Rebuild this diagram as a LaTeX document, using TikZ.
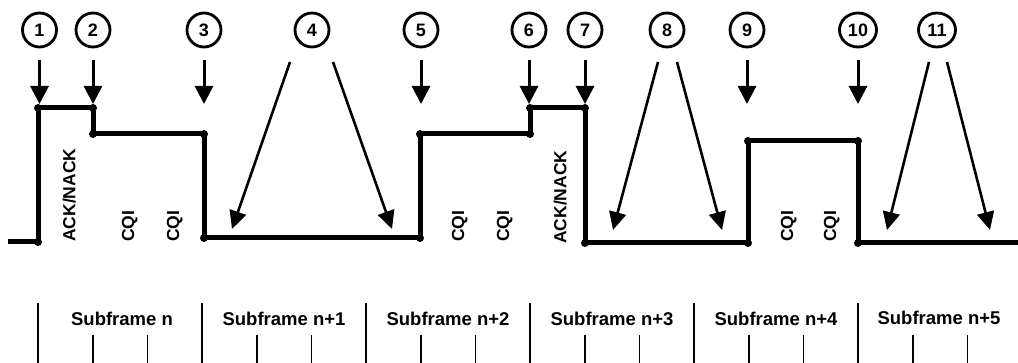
\documentclass[tikz,border=0pt]{standalone}
\usepackage{fontspec}
\setmainfont{Liberation Sans}
\usetikzlibrary{arrows.meta,calc,shapes.geometric}
\begin{document}
\begin{tikzpicture}[x=1pt,y=-1pt,
  wave/.style={line width=5pt, line join=miter},
  wdot/.style={circle, fill=black, inner sep=0pt, minimum size=8pt},
  num/.style={circle, draw, line width=2.8pt, minimum size=34pt, inner sep=0pt, font=\fontsize{18}{18}\selectfont\bfseries},
  wnum/.style={ellipse, draw, line width=2.8pt, minimum width=37pt, minimum height=34pt, inner sep=0pt, font=\fontsize{18}{18}\selectfont\bfseries},
  ptr/.style={line width=3pt, -{Triangle[length=18pt,width=18pt]}},
  dptr/.style={line width=2.6pt, -{Triangle[length=18pt,width=17pt]}},
  lbl/.style={rotate=90, anchor=west, inner sep=0pt, text depth=0pt, font=\fontsize{17.5}{18}\selectfont\bfseries},
  sublbl/.style={inner sep=0pt, font=\fontsize{18.5}{19}\selectfont\bfseries},
  divline/.style={line width=1.6pt}]
\useasboundingbox (0,0) rectangle (1018,363);
% waveform coordinates
\coordinate (p0) at (8,242);
\coordinate (p1) at (38,242);
\coordinate (p2) at (38,108);
\coordinate (p3) at (93,108);
\coordinate (p4) at (93,134);
\coordinate (p5) at (204,134);
\coordinate (p6) at (204,238);
\coordinate (p7) at (420,238);
\coordinate (p8) at (420,134);
\coordinate (p9) at (530,134);
\coordinate (p10) at (530,108);
\coordinate (p11) at (585,108);
\coordinate (p12) at (585,243);
\coordinate (p13) at (748,243);
\coordinate (p14) at (748,141);
\coordinate (p15) at (858,141);
\coordinate (p16) at (858,243);
\coordinate (p17) at (1018,243);
\draw[wave] (p0) -- (p1) -- (p2) -- (p3) -- (p4) -- (p5) -- (p6) -- (p7) -- (p8) -- (p9) -- (p10) -- (p11) -- (p12) -- (p13) -- (p14) -- (p15) -- (p16) -- (p17);
\foreach \i in {1,...,16} \node[wdot] at (p\i) {};
% circled numbers
\node[num] (c1) at (39.5,30) {1};
\node[num] (c2) at (93,30) {2};
\node[num] (c3) at (204,30) {3};
\node[num] (c4) at (312,30) {4};
\node[num] (c5) at (421,30) {5};
\node[num] (c6) at (529,30) {6};
\node[num] (c7) at (585,30) {7};
\node[num] (c8) at (667,30) {8};
\node[num] (c9) at (747,30) {9};
\node[wnum] (c10) at (858,30) {10};
\node[wnum] (c11) at (937,30) {11};
% vertical pointers
\foreach \n in {1,2,3,5,6,7,9,10} {
  \coordinate (s\n) at ($(c\n.center)+(0,30)$);
  \coordinate (t\n) at ($(c\n.center)+(0,74)$);
  \draw[ptr] (s\n) -- (t\n);
}
% diagonal pointers
\coordinate (s4a) at (290,62); \coordinate (t4a) at (232,229);
\coordinate (s4b) at (333,62); \coordinate (t4b) at (392,229);
\coordinate (s8a) at (658,62); \coordinate (t8a) at (613,230);
\coordinate (s8b) at (677,62); \coordinate (t8b) at (722,230);
\coordinate (s11a) at (929,62); \coordinate (t11a) at (887,230);
\coordinate (s11b) at (947,62); \coordinate (t11b) at (990,230);
\draw[dptr] (s4a) -- (t4a);
\draw[dptr] (s4b) -- (t4b);
\draw[dptr] (s8a) -- (t8a);
\draw[dptr] (s8b) -- (t8b);
\draw[dptr] (s11a) -- (t11a);
\draw[dptr] (s11b) -- (t11b);
% rotated labels
\node[lbl] (ack1) at (69,242) {ACK/NACK};
\node[lbl] (cqi1) at (128,242) {CQI};
\node[lbl] (cqi2) at (173,242) {CQI};
\node[lbl] (cqi3) at (458,242) {CQI};
\node[lbl] (cqi4) at (503,242) {CQI};
\node[lbl] (ack2) at (560,244) {ACK/NACK};
\node[lbl] (cqi5) at (787,242) {CQI};
\node[lbl] (cqi6) at (830,242) {CQI};
% subframe scale
\foreach \k in {0,...,5} {
  \draw[divline] ({38+164*\k},303) -- ({38+164*\k},363);
  \draw[divline] ({38+164*\k+54.7},335) -- ({38+164*\k+54.7},363);
  \draw[divline] ({38+164*\k+109.3},335) -- ({38+164*\k+109.3},363);
}
\node[sublbl] (sf0) at (122,319) {Subframe n};
\node[sublbl] (sf1) at (284,319) {Subframe n+1};
\node[sublbl] (sf2) at (448,319) {Subframe n+2};
\node[sublbl] (sf3) at (612,319) {Subframe n+3};
\node[sublbl] (sf4) at (776,319) {Subframe n+4};
\node[sublbl] (sf5) at (939,318) {Subframe n+5};
\end{tikzpicture}
\end{document}
